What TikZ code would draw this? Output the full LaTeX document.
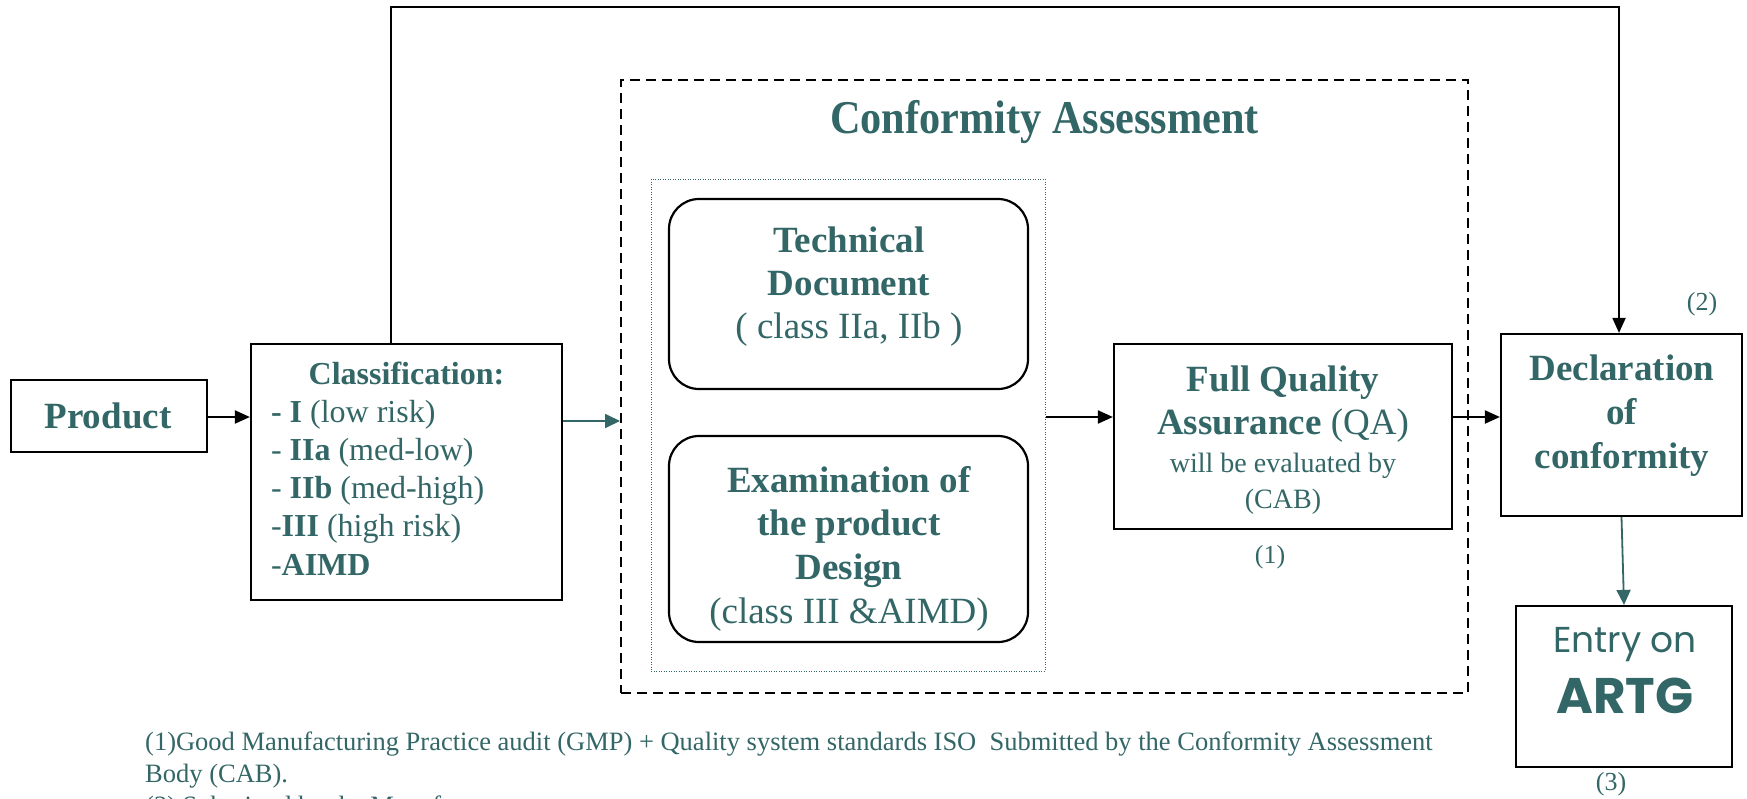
\documentclass[tikz,border=0pt]{standalone}
\usepackage{fontspec}
\usepackage{graphicx}
\setmainfont{Liberation Serif}
\newfontfamily\handfont{Poppins}
\usetikzlibrary{arrows.meta,calc}
\definecolor{tealtext}{RGB}{51,102,102}
\newcommand\setfs[2]{\fontsize{#1}{#2}\selectfont}

\tikzset{
  box/.style={draw=black, line width=2.2pt, inner sep=0pt},
  roundbox/.style={box, rounded corners=30pt},
  txt/.style={text=tealtext, inner sep=0pt, anchor=base},
  note/.style={text=tealtext, inner sep=0pt, anchor=center, font=\setfs{26}{30}},
  link/.style={draw=black, line width=2pt, -{Triangle[length=15pt,width=13pt]}},
  tlink/.style={draw=tealtext, fill=tealtext, line width=1.8pt, -{Triangle[length=15pt,width=14pt]}},
}

\begin{document}
\begin{tikzpicture}[x=1pt,y=-1pt]
\fill[white] (0,0) rectangle (1747,798);
\useasboundingbox (0,0) rectangle (1747,798);

% outer frame of the assessment stage and the inner group of reviews
\node[draw=black, line width=2pt, dash pattern=on 10pt off 6pt, inner sep=0pt,
      minimum width=847pt, minimum height=613pt] (ca) at (1044.5,386.5) {};
\node[draw=tealtext, line width=1pt, dash pattern=on 1pt off 1.5pt, inner sep=0pt,
      minimum width=394pt, minimum height=492pt] (grp) at (848,425) {};
\node[txt] (catitle) at (1044.5,133)
  {\setfs{47}{50}\bfseries\scalebox{0.9}[1]{Conformity Assessment}};

% boxes
\node[box, minimum width=196pt, minimum height=72pt] (prod) at (109,416) {};
\node[box, minimum width=311pt, minimum height=256pt] (cls) at (406.5,472) {};
\node[roundbox, minimum width=359pt, minimum height=190pt] (tech) at (848.5,294) {};
\node[roundbox, minimum width=359pt, minimum height=206pt] (exam) at (848.5,539) {};
\node[box, minimum width=338pt, minimum height=185pt] (fqa) at (1283,436.5) {};
\node[box, minimum width=241pt, minimum height=182pt] (decl) at (1621.5,425) {};
\node[box, minimum width=216pt, minimum height=161pt] (artg) at (1624,686.5) {};

% box texts
\node[txt] (prodt) at (108,428) {\setfs{37}{44}\bfseries Product};
\node[txt] (clst) at (406.5,384) {\setfs{32}{38.2}%
  \begin{tabular}[t]{@{}l@{}}
  \makebox[271pt][c]{\bfseries Classification:}\\
  \textbf{- I} (low risk)\\
  - \textbf{IIa} (med-low)\\
  - \textbf{IIb} (med-high)\\
  -\textbf{III} (high risk)\\
  -\textbf{AIMD}
  \end{tabular}};
\node[txt] (techt) at (849,252) {\setfs{37}{43}%
  \begin{tabular}[t]{@{}c@{}}
  \textbf{Technical}\\
  \textbf{Document}\\
  ( class IIa, IIb )
  \end{tabular}};
\node[txt] (examt) at (849,492) {\setfs{37}{43.7}%
  \begin{tabular}[t]{@{}c@{}}
  \textbf{Examination of}\\
  \textbf{the product}\\
  \textbf{Design}\\
  (class III \&AIMD)
  \end{tabular}};
\node[txt] (fqat) at (1283,391) {\setfs{37}{43}%
  \begin{tabular}[t]{@{}c@{}}
  \textbf{Full Quality}\\
  \textbf{Assurance} (QA)\\[-5pt]
  {\setfs{28}{34}will be evaluated by}\\[-7pt]
  {\setfs{28}{34}(CAB)}
  \end{tabular}};
\node[txt] (declt) at (1622,380) {\setfs{37}{44}%
  \begin{tabular}[t]{@{}c@{}}
  \textbf{Declaration}\\
  \textbf{of}\\
  \textbf{conformity}
  \end{tabular}};
\node[txt] (artgt) at (1625,652) {\handfont\setfs{36}{61}%
  \begin{tabular}[t]{@{}c@{}}
  Entry on\\
  {\setfs{50}{61}\bfseries ARTG}
  \end{tabular}};

% reference marks
\node[note] (n1) at (1270,557) {(1)};
\node[note] (n2) at (1702,304) {(2)};
\node[note] (n3) at (1611,784) {(3)};

% footnotes
\node[txt, anchor=base west] (foot) at (145,750) {\setfs{26.5}{32}%
  \begin{tabular}[t]{@{}l@{}}
  (1)Good Manufacturing Practice audit (GMP) + Quality system standards ISO\ \ Submitted by the Conformity Assessment\\
  Body (CAB).\\
  (2) Submitted by the Manufacturer
  \end{tabular}};

% connectors
\coordinate (axis) at (0,417);
\coordinate (axis2) at (0,421);
\coordinate (tl) at (391,7);
\coordinate (tr) at (1619,7);
\draw[link] (prod.east |- axis) -- (cls.west |- axis);
\draw[tlink] (cls.east |- axis2) -- (ca.west |- axis2);
\draw[link] (grp.east |- axis) -- (fqa.west |- axis);
\draw[link] (fqa.east |- axis) -- (decl.west |- axis);
\draw[link] (cls.north -| tl) -- (tl) -- (tr) -- (tr |- decl.north);
\draw[tlink] (decl.south) -- (artg.north);
\end{tikzpicture}
\end{document}
